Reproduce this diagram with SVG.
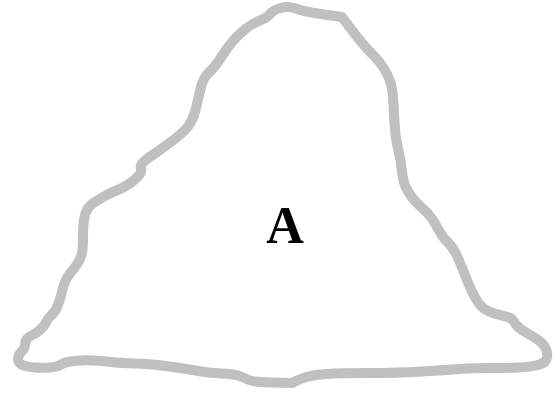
<svg xmlns="http://www.w3.org/2000/svg" width="556" height="396" viewBox="0 0 556 396">
<style>
.outline{fill:none;stroke:#c0c0c0;stroke-width:10;stroke-linejoin:round;stroke-linecap:round}
.lbl{font-family:"Liberation Serif","Times New Roman",serif;font-weight:bold;font-size:52px;fill:#000;text-anchor:middle}
</style>
<rect width="556" height="396" fill="#fff"/>
<g id="nodeA">
<path class="outline" d="M280.5,8 Q288,6 295.5,8.5 Q303,11 311.5,12.5 Q320,14 331,15.5 L342,17 L349.5,27 Q357,37 362.5,43.5 Q368,50 374,56 Q380,62 384,68.5 Q388,75 390.5,82.5 Q393,90 394,113.5 Q395,137 398,148.5 Q401,160 402,171.5 Q403,183 408,191.5 Q413,200 420.5,206.5 Q428,213 431.5,218 Q435,223 439,230.5 Q443,238 448,242.5 Q453,247 457.5,257 Q462,267 467,280 Q472,293 477.5,301.5 Q483,310 493,313 Q503,316 507.5,317 Q512,318 514.5,322.5 Q517,327 523.5,331 Q530,335 536,338.5 Q542,342 545,347 Q548,352 547,357.5 Q546,363 538,365 Q530,367 518.5,367.5 Q507,368 490,368 Q473,368 460,369 Q447,370 422,371.5 Q397,373 368.5,373 Q340,373 326.5,374 Q313,375 306.5,377 Q300,379 296,381 L292,383 L272,382.5 Q252,382 247.5,379.5 Q243,377 238,375.5 Q233,374 221.5,373.5 Q210,373 201.5,371.5 Q193,370 183,368.5 Q173,367 161.5,365.5 Q150,364 135,363.5 Q120,363 111.5,362 Q103,361 93,360.5 Q83,360 74,361 Q65,362 61,364.5 Q57,367 50,367.5 Q43,368 35,367.5 Q27,367 22.5,365 Q18,363 18,359 Q18,355 21.5,351.5 Q25,348 25,345 Q25,342 26.5,339.5 Q28,337 32.5,335 Q37,333 41,329 Q45,325 46.5,321.5 Q48,318 51.5,315 Q55,312 57.5,306 Q60,300 61.5,293.5 Q63,287 65,282 Q67,277 70,273.5 Q73,270 76.5,265 Q80,260 81.5,255 Q83,250 83,238.5 Q83,227 84,220 Q85,213 87.5,209 Q90,205 94,202.5 Q98,200 104,196.5 Q110,193 116.5,190.5 Q123,188 129,184 Q135,180 138.5,176 Q142,172 141,168.5 Q140,165 144,161.5 Q148,158 154,154 Q160,150 171.5,141.5 Q183,133 188,126.5 Q193,120 195.5,110 Q198,100 200.5,89 Q203,78 209,72.5 Q215,67 221,57.5 Q227,48 232.5,41.5 Q238,35 245.5,29 Q253,23 260,20.5 Q267,18 270,14 Q273,10 280.5,8 Z"/>
<text class="lbl" x="285" y="243">A</text>
</g>
<g id="connectors"/>
</svg>
